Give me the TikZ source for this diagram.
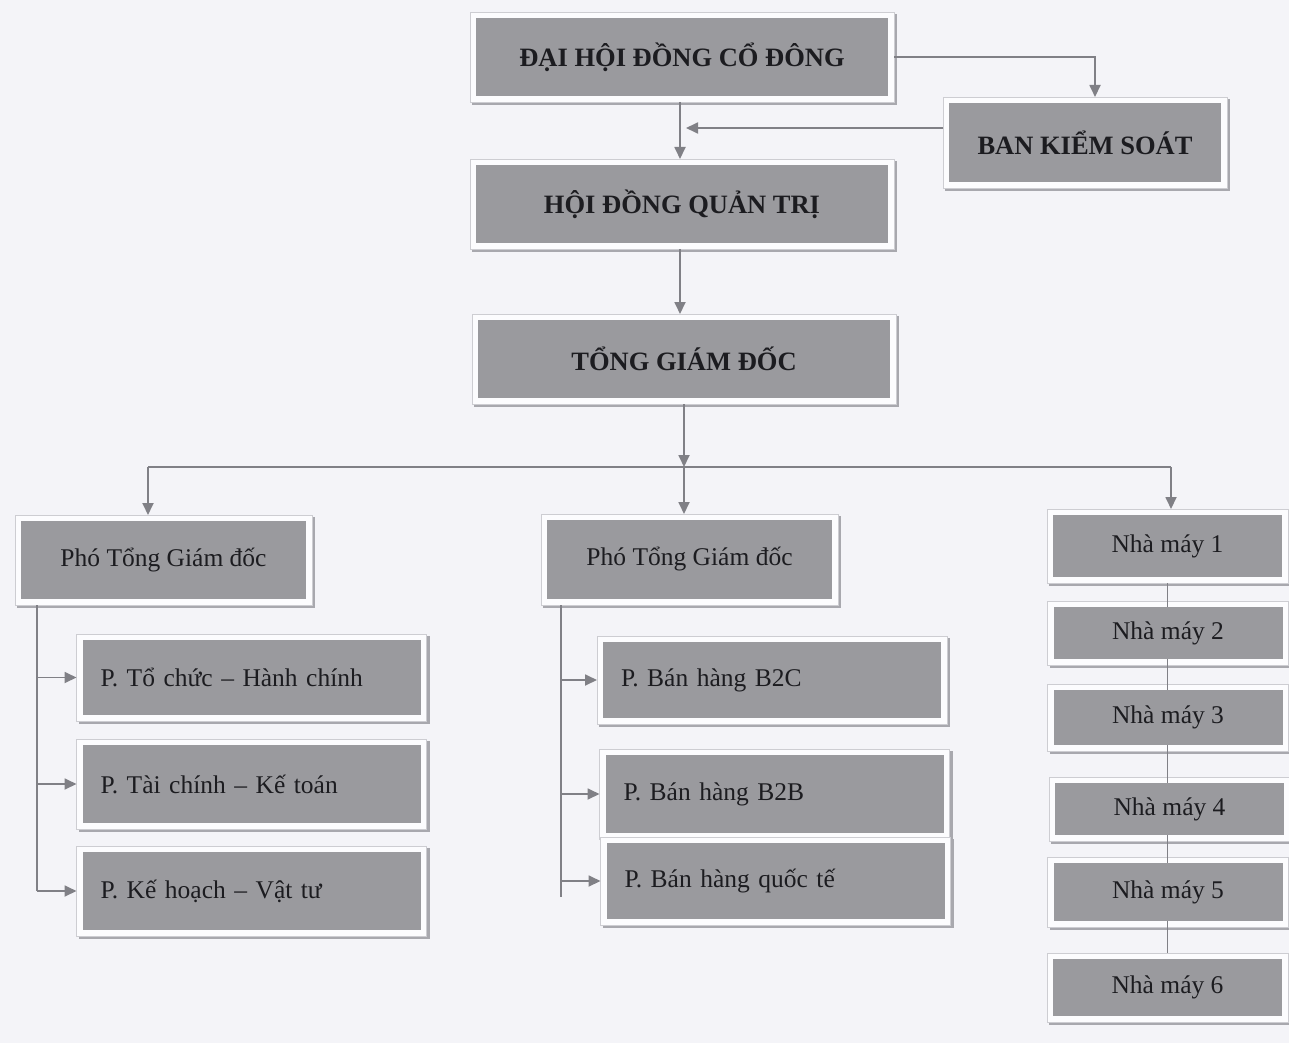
\documentclass[tikz,border=0pt]{standalone}
\usepackage{fontspec}
\setmainfont{Liberation Serif}
\usetikzlibrary{arrows.meta,calc,backgrounds}
\definecolor{bgc}{HTML}{F4F4F8}
\definecolor{boxc}{HTML}{9A9A9E}
\definecolor{framec}{HTML}{FCFCFE}
\definecolor{edgec}{HTML}{CDCDD2}
\definecolor{shadc}{HTML}{A8A8AE}
\definecolor{linec}{HTML}{808086}
\definecolor{txtc}{HTML}{1C1C20}
\frenchspacing
\begin{document}
\begin{tikzpicture}[x=1pt,y=-1pt,
  gbox/.style={fill=boxc, text=txtc, inner sep=0pt, outer sep=6pt, font=\fontsize{25.5}{28}\selectfont},
  topbox/.style={gbox, font=\fontsize{26.5}{30}\selectfont\bfseries},
  pbox/.style={gbox, align=left, text width=302pt, inner xsep=18pt, minimum width=338pt},
  nbox/.style={gbox, minimum width=229pt},
  conn/.style={draw=linec, line width=1.8pt},
  thinconn/.style={draw=linec, line width=1pt},
  arr/.style={conn, -{Triangle[length=12pt,width=11pt]}},
]
\useasboundingbox (0,0) rectangle (1289,1043);
\begin{pgfonlayer}{background}
  \fill[bgc] (0,0) rectangle (1289,1043);
\end{pgfonlayer}

% top level
\node[topbox, minimum width=412pt, minimum height=78pt] (dh) at (682,57) {ĐẠI HỘI ĐỒNG CỔ ĐÔNG};
\node[topbox, minimum width=412pt, minimum height=78pt] (hd) at (682,204) {HỘI ĐỒNG QUẢN TRỊ};
\node[topbox, minimum width=272pt, minimum height=79pt] (bks) at (1085,142.5) {BAN KIỂM SOÁT};
\node[topbox, minimum width=412pt, minimum height=78pt] (tgd) at (684,359) {TỔNG GIÁM ĐỐC};

% deputies
\node[gbox, minimum width=285pt, minimum height=78pt] (pl) at (163.5,560) {Phó Tổng Giám đốc};
\node[gbox, minimum width=285pt, minimum height=79pt] (pm) at (689.5,559.5) {Phó Tổng Giám đốc};

% left departments
\node[pbox, minimum height=75pt] (p1) at (251.5,677.5) {P. Tổ chức – Hành chính};
\node[pbox, minimum height=78pt] (p2) at (251.5,784) {P. Tài chính – Kế toán};
\node[pbox, minimum height=78pt] (p3) at (251.5,891) {P. Kế hoạch – Vật tư};

% middle departments
\node[pbox, minimum height=76pt] (b1) at (772,680) {P. Bán hàng B2C};
\node[pbox, minimum height=78pt, minimum width=337pt] (b2) at (774.5,794) {P. Bán hàng B2B};
\node[pbox, minimum height=76pt, minimum width=335pt] (b3) at (775.5,881) {P. Bán hàng quốc tế};

% factories
\node[nbox, minimum height=62pt] (n1) at (1167.5,546) {Nhà máy 1};
\node[nbox, minimum height=52pt] (n2) at (1168,633) {Nhà máy 2};
\node[nbox, minimum height=55pt] (n3) at (1168,717.5) {Nhà máy 3};
\node[nbox, minimum height=52pt] (n4) at (1169.5,809) {Nhà máy 4};
\node[nbox, minimum height=58pt] (n5) at (1168,892) {Nhà máy 5};
\node[nbox, minimum height=57pt] (n6) at (1167.5,987.5) {Nhà máy 6};

% frames behind the boxes
\begin{pgfonlayer}{background}
  \foreach \b in {dh,hd,bks,tgd,pl,pm,p1,p2,p3,b1,b2,b3,n1,n2,n3,n4,n5,n6}{
    \fill[shadc] ($(\b.south west)+(2,3)$) rectangle ($(\b.north east)+(3,2)$);
    \filldraw[fill=framec, draw=edgec, line width=0.8pt] (\b.south west) rectangle (\b.north east);
  }
  \draw[thinconn] (n1.south) -- (n6.north);
\end{pgfonlayer}

% connectors, top
\draw[arr] (dh.east) -| ([xshift=10pt]bks.north);
\coordinate (jbks) at (686,128);
\draw[arr] (bks.west |- jbks) -- (jbks);
\draw[arr] ([xshift=-2pt]dh.south) -- ([xshift=-2pt]hd.north);
\draw[arr] ([xshift=-2pt]hd.south) -- ([xshift=-2pt]hd.south |- tgd.north);

% bus
\coordinate (busl) at (148,467);
\coordinate (busm) at (684,467);
\coordinate (busr) at (1171,467);
\draw[arr] (tgd.south) -- (busm);
\draw[conn] (busl) -- (busr);
\draw[arr] (busl) -- (busl |- pl.north);
\draw[arr] (busm) -- (busm |- pm.north);
\draw[arr] (busr) -- (busr |- n1.north);

% left branch
\coordinate (lA) at (37,605);
\coordinate (lB) at (37,891);
\draw[conn] (lA) -- (lB);
\draw[arr] (lA |- p1.west) -- (p1.west);
\draw[arr] (lA |- p2.west) -- (p2.west);
\draw[arr] (lA |- p3.west) -- (p3.west);

% middle branch
\coordinate (mA) at (561,605);
\coordinate (mB) at (561,897);
\draw[conn] (mA) -- (mB);
\draw[arr] (mA |- b1.west) -- (b1.west);
\draw[arr] (mA |- b2.west) -- (b2.west);
\draw[arr] (mA |- b3.west) -- (b3.west);
\end{tikzpicture}
\end{document}
